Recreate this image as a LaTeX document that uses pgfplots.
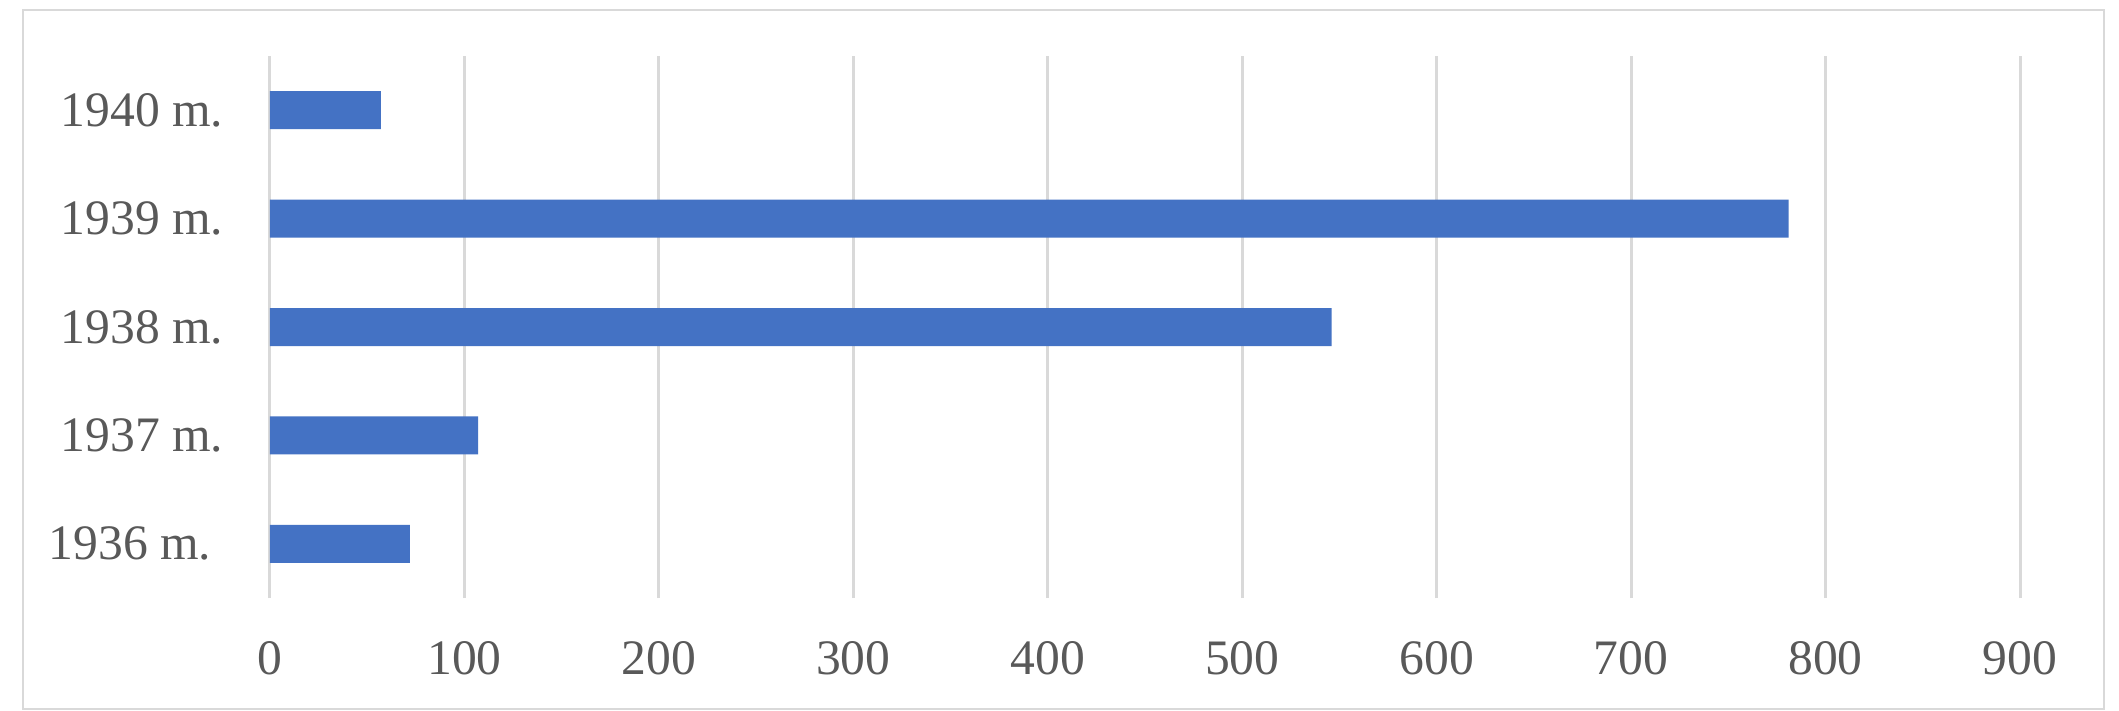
\documentclass[border=0pt]{standalone}
\usepackage{pgfplots}
\pgfplotsset{compat=1.18}
\usepackage{fontspec}
\setmainfont{Liberation Serif}

\definecolor{barblue}{HTML}{4472C4}
\definecolor{gridgray}{HTML}{D9D9D9}
\definecolor{labelgray}{HTML}{595959}

\begin{document}
\begin{tikzpicture}
    \useasboundingbox (-67.5bp,-28.25bp) rectangle (462.25bp,149.5bp);
    \fill[white] (-67.5bp,-28.25bp) rectangle (462.25bp,149.5bp);
    \draw[gridgray, line width=0.7bp] (-61.75bp,-27.75bp) rectangle (458.5bp,147bp);
    \begin{axis}[
        at={(0,0)}, anchor=south west,
        scale only axis,
        width=437.5bp,
        height=135.5bp,
        xbar,
        bar width=9.5bp,
        xmin=0, xmax=900,
        ymin=0.5, ymax=5.5,
        xtick distance=100,
        ytick={1,2,3,4,5},
        yticklabels={1936 m.\kern3bp, 1937 m., 1938 m., 1939 m., 1940 m.},
        xmajorgrids=true,
        major grid style={draw=gridgray, line width=0.75bp},
        axis line style={draw=none},
        major tick length=0pt,
        tick style={draw=none},
        /pgf/number format/assume math mode=true,
        ticklabel style={font=\fontsize{12.4bp}{15bp}\selectfont, text=labelgray, inner sep=0pt},
        yticklabel style={anchor=east, xshift=-11.5bp},
        xticklabel style={anchor=north, yshift=-10.7bp},
    ]
        \addplot[fill=barblue, draw=none] coordinates {
            (72,1)
            (107,2)
            (546,3)
            (781,4)
            (57,5)
        };
    \end{axis}
\end{tikzpicture}
\end{document}
